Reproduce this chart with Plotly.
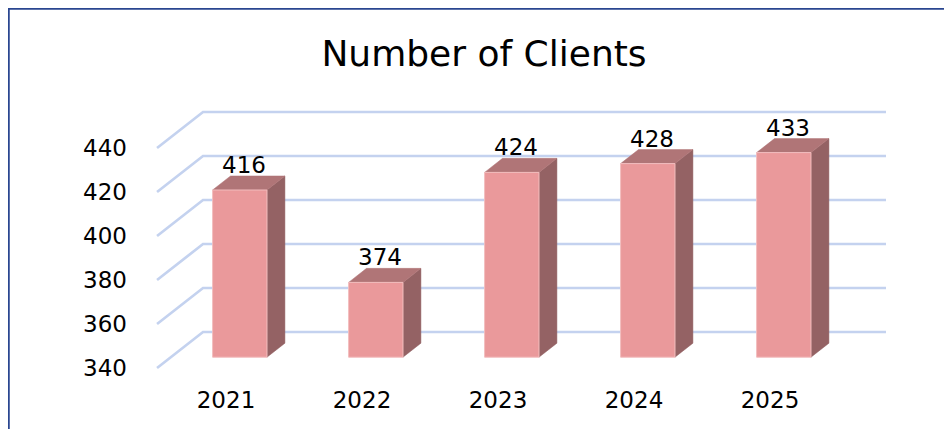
import plotly.graph_objects as go

# ---- data ----
categories = ["2021", "2022", "2023", "2024", "2025"]
clients = [416, 374, 424, 428, 433]
tick_values = [340, 360, 380, 400, 420, 440]
title_text = "Number of Clients"

# ---- pseudo-3D projection settings (style/geometry) ----
DX = 0.338      # x shift (category units) for full depth
DY = 16.36      # y shift (value units) for full depth
D0, D1 = 0.30, 0.69   # bar depth (front, back)
HALF = 0.20     # half bar width
XL, XR = -0.507, 4.515  # floor extent (front coordinates)
BASE = tick_values[0]

FRONT = "#EA999B"
SIDE = "#946264"
TOP = "#B07577"
EDGE = "#F2BDBE"
GRID = "#C4D2EF"
FONT = "Verdana, DejaVu Sans, sans-serif"


def proj(x, v, d):
    return x + DX * d, v + DY * d


fig = go.Figure()

# back-wall gridlines and left-wall diagonals
for t in tick_values:
    xa, ya = proj(XL, t, 0)
    xb, yb = proj(XL, t, 1)
    xc, yc = proj(XR, t, 1)
    fig.add_trace(go.Scatter(x=[xa, xb, xc], y=[ya, yb, yc], mode="lines",
                             line=dict(color=GRID, width=2.7),
                             hoverinfo="skip", showlegend=False))

# bars
for i, v in enumerate(clients):
    xl, xr = i - HALF, i + HALF
    # side face
    pts = [proj(xr, BASE, D0), proj(xr, v, D0), proj(xr, v, D1), proj(xr, BASE, D1)]
    fig.add_trace(go.Scatter(x=[p[0] for p in pts] + [pts[0][0]],
                             y=[p[1] for p in pts] + [pts[0][1]],
                             fill="toself", fillcolor=SIDE, mode="lines",
                             line=dict(color=SIDE, width=0.5),
                             hoverinfo="skip", showlegend=False))
    # top face
    pts = [proj(xl, v, D0), proj(xr, v, D0), proj(xr, v, D1), proj(xl, v, D1)]
    fig.add_trace(go.Scatter(x=[p[0] for p in pts] + [pts[0][0]],
                             y=[p[1] for p in pts] + [pts[0][1]],
                             fill="toself", fillcolor=TOP, mode="lines",
                             line=dict(color=TOP, width=0.5),
                             hoverinfo="skip", showlegend=False))
    # front face
    pts = [proj(xl, BASE, D0), proj(xr, BASE, D0), proj(xr, v, D0), proj(xl, v, D0)]
    fig.add_trace(go.Scatter(x=[p[0] for p in pts] + [pts[0][0]],
                             y=[p[1] for p in pts] + [pts[0][1]],
                             fill="toself", fillcolor=FRONT, mode="lines",
                             line=dict(color=EDGE, width=1),
                             hoverinfo="skip", showlegend=False))
    # value label
    lx, _ = proj(i + 0.03, v, D0)
    _, ly = proj(i, v, D1)
    fig.add_annotation(x=lx, y=ly, text=str(v), showarrow=False,
                       yanchor="middle", yshift=11,
                       font=dict(family=FONT, size=23, color="#000000"))

# figure is placed at page offset (8, 8) by the default body margin
L, R, T, B = 132, 60, 92, 62
W, H = 952, 429
px_per_x = 136.0
px_per_y = 2.2
x0 = (L + 8 - 226) / px_per_x
x1 = x0 + (W - L - R) / px_per_x
ymin = BASE - (H - B + 8 - 368) / px_per_y
ymax = ymin + (H - T - B) / px_per_y

fig.update_layout(
    width=W, height=H,
    margin=dict(l=L, r=R, t=T, b=B),
    paper_bgcolor="white", plot_bgcolor="white",
    title=dict(text=title_text, x=476 / W, xref="container", xanchor="center",
               y=1 - 45 / H, yref="container", yanchor="middle",
               font=dict(family=FONT, size=36, color="#000000")),
    xaxis=dict(range=[x0, x1], tickmode="array",
               tickvals=list(range(len(categories))), ticktext=categories,
               showgrid=False, zeroline=False, showline=False, ticks="",
               ticklabelstandoff=9,
               tickfont=dict(family=FONT, size=23, color="#000000")),
    yaxis=dict(range=[ymin, ymax], tickmode="array", tickvals=tick_values,
               showgrid=False, zeroline=False, showline=False, ticks="",
               ticklabelstandoff=12,
               tickfont=dict(family=FONT, size=23, color="#000000")),
    showlegend=False,
)

# chart frame (only top/left visible, as in the reference)
fig.add_shape(type="rect", xref="paper", yref="paper",
              x0=(0.5 - L) / (W - L - R), x1=1.3,
              y0=-0.5, y1=(H - B - 0.5) / (H - T - B),
              line=dict(color="#2A4690", width=2.5), fillcolor="rgba(0,0,0,0)",
              layer="above")

fig.write_html("out.html")
